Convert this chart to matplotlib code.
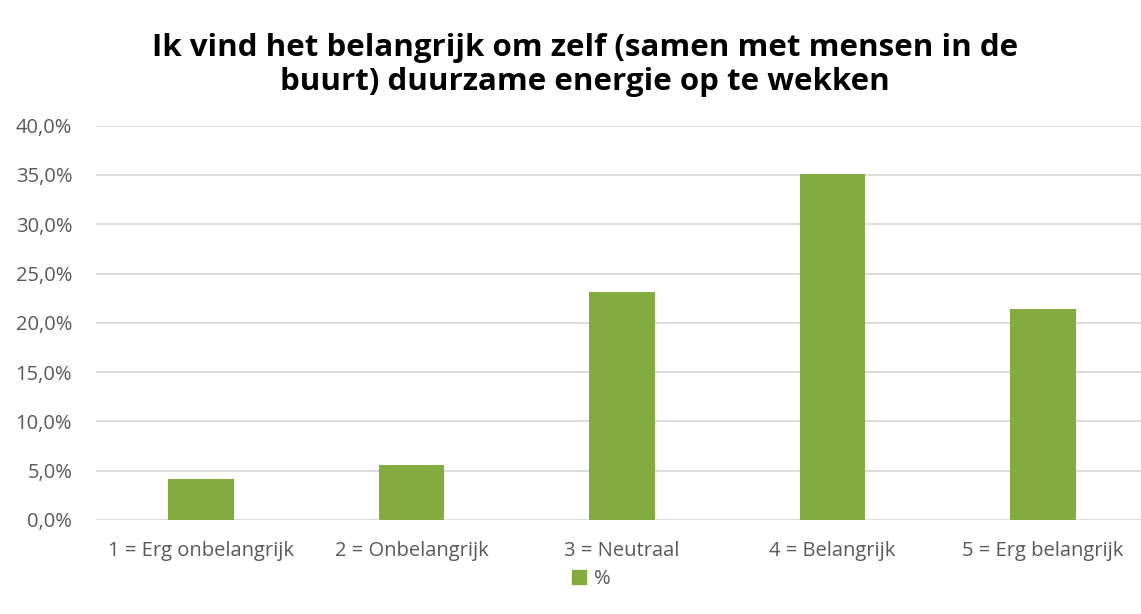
import matplotlib.pyplot as plt
from matplotlib.ticker import FuncFormatter
from matplotlib.patches import Patch

# data
categories = ['1 = Erg onbelangrijk', '2 = Onbelangrijk', '3 = Neutraal',
              '4 = Belangrijk', '5 = Erg belangrijk']
values = [4.15, 5.55, 23.1, 35.1, 21.4]
yticks = [0, 5, 10, 15, 20, 25, 30, 35, 40]

bar_color = '#83AB3F'
text_color = '#595959'

plt.rcParams['font.family'] = ['Open Sans', 'DejaVu Sans']

fig = plt.figure(figsize=(11.41, 6.14), dpi=100)
W, H = 1141, 614
left, right = 95.75, 1141
bottom, top = 520, 125.7
ax = fig.add_axes([left / W, (H - bottom) / H, (right - left) / W, (bottom - top) / H])

x = range(len(categories))
ax.bar(x, values, width=0.313, color=bar_color, zorder=3)

ax.set_ylim(0, 40)
ax.set_xlim(-0.5, -0.5 + (right - left) / 210.5)
ax.set_yticks(yticks)
ax.yaxis.set_major_formatter(FuncFormatter(lambda v, p: f'{v:.1f}%'.replace('.', ',')))
ax.set_xticks(list(x))
ax.set_xticklabels(categories)

ax.grid(axis='y', color='#D9D9D9', linewidth=1.3, zorder=0)
ax.set_axisbelow(True)
for s in ax.spines.values():
    s.set_visible(False)
ax.tick_params(axis='both', length=0, labelcolor=text_color, labelsize=14.5)
ax.tick_params(axis='y', pad=17)
ax.tick_params(axis='x', pad=15)

fig.text(585 / W, 1 - 65 / H,
         'Ik vind het belangrijk om zelf (samen met mensen in de\nbuurt) duurzame energie op te wekken',
         ha='center', va='center', fontsize=22.5, fontweight='bold', color='black',
         linespacing=1.2)

fig.legend(handles=[Patch(color=bar_color, label='%')], loc='center',
           bbox_to_anchor=(591 / W, 1 - 579 / H), frameon=False, fontsize=14.5,
           handlelength=0.7, handleheight=0.7, handletextpad=0.4, labelcolor=text_color)

fig.savefig('out.png', dpi=100)
